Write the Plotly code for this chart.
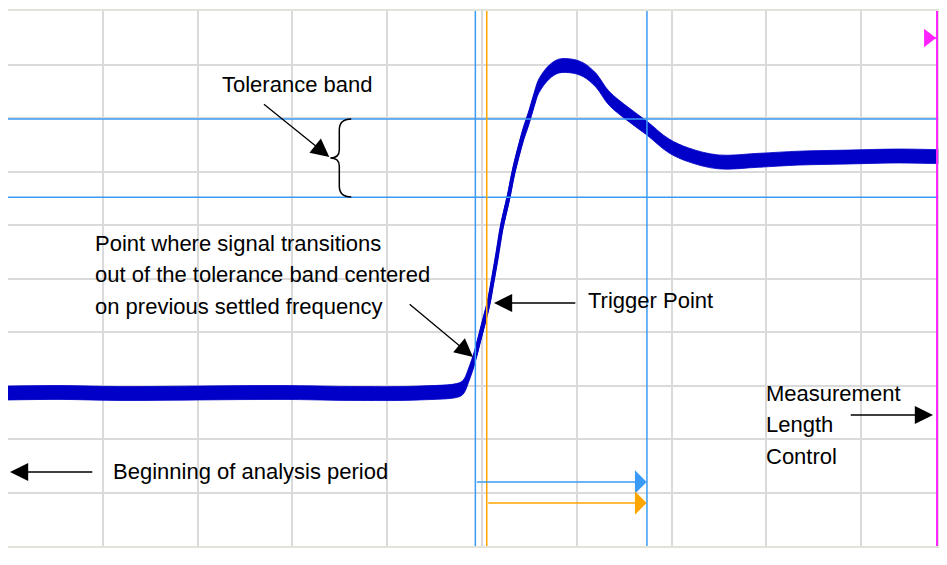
import plotly.graph_objects as go

# Signal trace, in graticule divisions (10 x 10 grid)
time_div = [0.0, 0.55, 1.18, 2.02, 2.86, 3.71, 4.34, 4.76, 4.81, 4.86, 4.92, 4.97,
            5.02, 5.07, 5.11, 5.16, 5.21, 5.28, 5.33, 5.39, 5.44, 5.49, 5.55, 5.60,
            5.71, 5.81, 5.95, 6.07, 6.20, 6.34, 6.55, 6.74, 6.97, 7.18, 7.49, 7.92,
            8.34, 8.86, 9.39, 9.97]
level_div = [2.86, 2.87, 2.85, 2.86, 2.87, 2.85, 2.86, 2.92, 2.99, 3.20, 3.51, 3.85,
             4.19, 4.54, 4.93, 5.44, 5.98, 6.52, 6.97, 7.40, 7.72, 7.98, 8.34, 8.60,
             8.86, 8.97, 8.97, 8.90, 8.71, 8.37, 8.06, 7.81, 7.48, 7.31, 7.18, 7.21,
             7.25, 7.27, 7.29, 7.27]
noise_half = 0.13   # half height of the noise band, divisions

# Markers / cursors (divisions)
tol_upper, tol_lower = 7.98, 6.52
cursor_start, cursor_stop = 4.93, 6.74
trigger_pos = 5.05
meas_length = 9.80

# the page body adds an 8px offset, so the plot area starts at (8, 11) on screen
W, H = 947, 565
OFF = 8
L, T, B = 0, 3, 27
XMAX = (W - L) / 95.0


def px(x):  # screen x -> divisions
    return (x - OFF - L) / 95.0


def py(y):  # screen y -> divisions
    return (546 - y) / 53.5


upper = [v + noise_half for v in level_div]
lower = [v - noise_half for v in level_div]

trace_col = '#0000C8'
fig = go.Figure()
fig.add_trace(go.Scatter(x=time_div, y=lower, mode='lines', line=dict(color=trace_col, width=0.8, shape='spline'),
                         hoverinfo='skip', showlegend=False))
fig.add_trace(go.Scatter(x=time_div, y=upper, mode='lines', line=dict(color=trace_col, width=0.8, shape='spline'),
                         fill='tonexty', fillcolor=trace_col, hoverinfo='skip', showlegend=False))
fig.add_trace(go.Scatter(x=time_div, y=level_div, mode='lines', line=dict(color=trace_col, width=4, shape='spline'),
                         hoverinfo='skip', showlegend=False))
fig.add_trace(go.Scatter(x=[px(930)], y=[py(38)], mode='markers',
                         marker=dict(symbol='triangle-right', size=16, color='#FF22FF'),
                         hoverinfo='skip', showlegend=False))

blue = '#3A9BF7'
orange = '#FFA500'
shapes = [
    dict(type='line', x0=0, x1=XMAX, y0=tol_upper, y1=tol_upper, line=dict(color=blue, width=1.5)),
    dict(type='line', x0=0, x1=XMAX, y0=tol_lower, y1=tol_lower, line=dict(color=blue, width=1.5)),
    dict(type='line', x0=cursor_start, x1=cursor_start, y0=0, y1=10, line=dict(color=blue, width=1.5)),
    dict(type='line', x0=cursor_stop, x1=cursor_stop, y0=0, y1=10, line=dict(color=blue, width=1.5)),
    dict(type='line', x0=trigger_pos, x1=trigger_pos, y0=0, y1=10, line=dict(color=orange, width=1.5)),
    dict(type='rect', x0=px(940), x1=XMAX, y0=0, y1=10, line=dict(width=0),
         fillcolor='rgba(218,218,218,0.8)', layer='above'),
    dict(type='line', x0=meas_length, x1=meas_length, y0=0, y1=10, line=dict(color='#FF22FF', width=2), layer='above'),
    dict(type='line', x0=px(935), x1=meas_length, y0=py(38), y1=py(38), line=dict(color='#FF22FF', width=1.5)),
    # curly brace marking the tolerance band
    dict(type='path', line=dict(color='black', width=1.5),
         path=(f"M {px(352)} {py(119)} Q {px(340)} {py(119)} {px(340)} {py(130)} "
               f"L {px(340)} {py(150)} Q {px(340)} {py(158)} {px(331)} {py(158)} "
               f"Q {px(340)} {py(158)} {px(340)} {py(166)} "
               f"L {px(340)} {py(186)} Q {px(340)} {py(197)} {px(352)} {py(197)}")),
]

font = dict(family='Liberation Sans, Arial, sans-serif', size=22, color='black')
ann = []


def label(lines, x, y, step=31.7):
    for i, text in enumerate(lines):
        ann.append(dict(text=text, x=px(x), y=py(y + i * step), xref='x', yref='y', showarrow=False,
                        xanchor='left', yanchor='middle', align='left', font=font))


def arrow(x0, y0, x1, y1, color='black', head=2, size=2.8, width=1.3):
    ann.append(dict(x=px(x1), y=py(y1), ax=px(x0), ay=py(y0), xref='x', yref='y', axref='x', ayref='y',
                    text='', showarrow=True, arrowhead=head, arrowsize=size, arrowwidth=width,
                    arrowcolor=color, standoff=0, startstandoff=0))


label(['Tolerance band'], 220, 84)
label(['Point where signal transitions', 'out of the tolerance band centered',
       'on previous settled frequency'], 93, 243)
label(['Trigger Point'], 587, 300)
label(['Beginning of analysis period'], 111, 471)
label(['Measurement', 'Length', 'Control'], 766, 393)
arrow(263, 103, 330, 157)
arrow(409, 303, 474, 357)
arrow(578, 303, 495, 303)
arrow(94, 472, 10, 472)
arrow(851, 415, 935, 415)
arrow(cursor_start * 95 + OFF, 482, 648, 482, color=blue, head=1, size=2.6, width=1.5)
arrow(trigger_pos * 95 + OFF, 503, 648, 503, color=orange, head=1, size=2.6, width=1.5)
ann.append(dict(text='00704', x=px(918), y=py(562), xref='x', yref='y', xanchor='left', yanchor='middle',
                showarrow=False, font=dict(family='Liberation Sans', size=8, color='#888888')))

fig.update_layout(
    width=W, height=H, margin=dict(l=L, r=0, t=T, b=B),
    paper_bgcolor='white', plot_bgcolor='white',
    shapes=shapes, annotations=ann,
    xaxis=dict(range=[0, XMAX], dtick=1, tick0=0, showgrid=True, gridcolor='#DADADA', gridwidth=1.5,
               showticklabels=False, ticks='', zeroline=False, showline=True, linecolor='#E2E2D8',
               linewidth=2, mirror=True, fixedrange=True),
    yaxis=dict(range=[0, 10], dtick=1, tick0=0, showgrid=True, gridcolor='#DADADA', gridwidth=1.5,
               showticklabels=False, ticks='', zeroline=False, showline=True, linecolor='#E2E2D8',
               linewidth=2, mirror=True, fixedrange=True),
)

fig.write_html("out.html")
